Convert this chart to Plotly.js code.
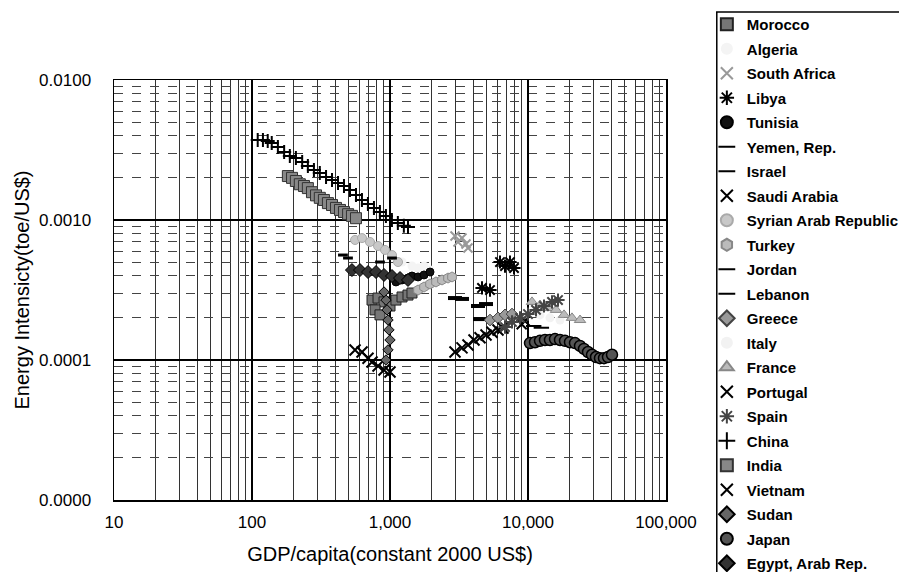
<!DOCTYPE html>
<html>
<head>
<meta charset="utf-8">
<script src="https://cdn.plot.ly/plotly-3.0.1.min.js"></script>
<style>html,body{margin:0;padding:0;background:#fff;}#chart{width:899px;height:572px;}</style>
</head>
<body>
<div id="chart"></div>
<script>
// ---- axes ----
const xTickVals = [10, 100, 1000, 10000, 100000];
const xTickText = ["10", "100", "1,000", "10,000", "100,000"];
const yTickVals = [0.00001, 0.0001, 0.001, 0.01];
const yTickText = ["0.0000", "0.0001", "0.0010", "0.0100"];
const xMinorVals = [20,30,40,50,60,70,80,90,200,300,400,500,600,700,800,900,2000,3000,4000,5000,6000,7000,8000,9000,20000,30000,40000,50000,60000,70000,80000,90000];
const yMinorVals = [0.00002,0.00003,0.00004,0.00005,0.00006,0.00007,0.00008,0.00009,0.0002,0.0003,0.0004,0.0005,0.0006,0.0007,0.0008,0.0009,0.002,0.003,0.004,0.005,0.006,0.007,0.008,0.009];

// ---- data (GDP per capita, constant 2000 US$ ; energy intensity toe/US$) ----
const countries = ["Morocco","Algeria","South Africa","Libya","Tunisia","Yemen, Rep.","Israel","Saudi Arabia","Syrian Arab Republic","Turkey","Jordan","Lebanon","Greece","Italy","France","Portugal","Spain","China","India","Vietnam","Sudan","Japan","Egypt, Arab Rep."];

const moroccoX = [741, 819, 905, 1000, 1105, 1222, 1350, 1443, 779, 846];
const moroccoY = [0.000268, 0.000277, 0.00026, 0.000243, 0.000268, 0.000282, 0.000291, 0.000301, 0.000228, 0.00021];
const algeriaX = [1222, 1443, 1596, 1764, 1950];
const algeriaY = [0.000501, 0.000469, 0.000454, 0.000469, 0.000439];
const southAfricaX = [2958, 3110, 3324, 3554, 3675];
const southAfricaY = [0.000769, 0.000697, 0.000743, 0.000674, 0.000631];
const libyaX = [6268, 6813, 7405, 7916, 4642, 5305];
const libyaY = [0.000501, 0.000469, 0.000501, 0.000454, 0.000327, 0.000316];
const tunisiaX = [1105, 1222, 1350, 1443, 1596, 1764, 1950];
const tunisiaY = [0.000361, 0.000373, 0.000385, 0.000398, 0.000392, 0.000405, 0.000425];
const yemenX = [456, 496];
const yemenY = [0.000562, 0.000535];
const israelX = [11000, 12500];
const israelY = [0.000175, 0.00017];
const saudiX = [9000, 9500];
const saudiY = [0.00018, 0.00019];
const syriaX = [558, 627, 716, 819, 920, 1034, 1143];
const syriaY = [0.00072, 0.000743, 0.000697, 0.000652, 0.000611, 0.000562, 0.000501];
const turkeyX = [1596, 1764, 1950, 2154, 2382, 2633, 2815];
const turkeyY = [0.000316, 0.000332, 0.000349, 0.000361, 0.000373, 0.000385, 0.000392];
const jordanX = [846, 1034];
const jordanY = [0.000501, 0.000535];
const lebanonX = [2958, 3324, 4342, 4490, 4963];
const lebanonY = [0.000277, 0.000273, 0.000243, 0.000196, 0.000251];
const greeceX = [5305, 6063, 6813, 7657];
const greeceY = [0.000193, 0.0002, 0.00021, 0.000213];
const italyX = [12220, 14430, 17060];
const italyY = [0.00021, 0.0002, 0.000193];
const franceX = [10690, 12220, 13960, 15960, 18240, 20840, 23820];
const franceY = [0.00026, 0.000247, 0.000235, 0.000228, 0.00021, 0.0002, 0.000193];
const portugalX = [2958, 3324, 3675, 4062, 4490, 4963, 5484, 6063, 6590];
const portugalY = [0.000114, 0.000122, 0.000128, 0.000139, 0.000144, 0.000151, 0.000158, 0.000164, 0.000169];
const spainX = [6813, 7657, 8750, 10000, 11430, 13060, 14930, 16500];
const spainY = [0.000172, 0.000187, 0.0002, 0.000213, 0.000228, 0.000243, 0.00026, 0.000268];
const chinaX = [110, 120, 130, 139, 154, 171, 188, 208, 231, 254, 281, 310, 344, 380, 420, 464, 513, 567, 626, 692, 765, 845, 934, 1032, 1140, 1260, 1350];
const chinaY = [0.00373, 0.00373, 0.00367, 0.00355, 0.00332, 0.00306, 0.00287, 0.00277, 0.0026, 0.00243, 0.00228, 0.00217, 0.00203, 0.00193, 0.00184, 0.00175, 0.00164, 0.00151, 0.00139, 0.0013, 0.00122, 0.00114, 0.00107, 0.001, 0.00095, 0.00091, 0.00089];
const indiaX = [182, 195, 208, 222, 238, 254, 272, 291, 310, 332, 355, 380, 406, 434, 464, 497, 530, 567];
const indiaY = [0.00206, 0.002, 0.0019, 0.0018, 0.00175, 0.00169, 0.00158, 0.0015, 0.00144, 0.00139, 0.00132, 0.00128, 0.00122, 0.00118, 0.00114, 0.0011, 0.00107, 0.00103];
const vietnamX = [558, 627, 693, 741, 819, 905, 1000];
const vietnamY = [0.000118, 0.000114, 0.000103, 0.0000968, 0.0000906, 0.0000848, 0.0000821];
const sudanX = [935, 967, 1000, 983, 967, 951, 935, 905];
const sudanY = [0.0001, 0.000118, 0.000139, 0.000164, 0.000193, 0.000228, 0.000268, 0.000306];
const japanX = [10340, 11240, 12220, 13280, 14430, 15690, 17060, 18540, 20150, 21910, 23820, 25450, 27220, 29090, 31110, 33240, 35540, 37990, 40620];
const japanY = [0.000132, 0.000134, 0.000137, 0.000139, 0.000139, 0.000141, 0.000139, 0.000137, 0.000134, 0.000132, 0.000126, 0.00012, 0.000114, 0.000109, 0.000105, 0.000103, 0.000103, 0.000105, 0.000109];
const egyptX = [530, 606, 693, 792, 905, 1034, 1182, 1350];
const egyptY = [0.000439, 0.000439, 0.000425, 0.000425, 0.000405, 0.000398, 0.000385, 0.000373];

// ---- styles ----
const seriesX = [moroccoX, algeriaX, southAfricaX, libyaX, tunisiaX, yemenX, israelX, saudiX, syriaX, turkeyX, jordanX, lebanonX, greeceX, italyX, franceX, portugalX, spainX, chinaX, indiaX, vietnamX, sudanX, japanX, egyptX];
const seriesY = [moroccoY, algeriaY, southAfricaY, libyaY, tunisiaY, yemenY, israelY, saudiY, syriaY, turkeyY, jordanY, lebanonY, greeceY, italyY, franceY, portugalY, spainY, chinaY, indiaY, vietnamY, sudanY, japanY, egyptY];
const styles = [
  {symbol:'square', color:'#777', line:'#222', size:10, lw:1},
  {symbol:'circle', color:'#f4f4f4', line:'#eee', size:9, lw:0},
  {symbol:'x-thin-open', color:'#999', line:'#999', size:9, lw:2},
  {symbol:'asterisk-open', color:'#000', line:'#000', size:11, lw:2},
  {symbol:'circle', color:'#111', line:'#000', size:8, lw:1},
  {symbol:'line-ew-open', color:'#000', line:'#000', size:7, lw:3},
  {symbol:'line-ew-open', color:'#000', line:'#000', size:11, lw:2},
  {symbol:'x-thin-open', color:'#000', line:'#000', size:10, lw:2},
  {symbol:'circle', color:'#c8c8c8', line:'#aaa', size:9, lw:1},
  {symbol:'hexagon', color:'#bbb', line:'#888', size:10, lw:1},
  {symbol:'line-ew-open', color:'#000', line:'#000', size:7, lw:3},
  {symbol:'line-ew-open', color:'#000', line:'#000', size:10, lw:4},
  {symbol:'diamond', color:'#999', line:'#444', size:9, lw:1},
  {symbol:'circle', color:'#f2f2f2', line:'#eee', size:9, lw:0},
  {symbol:'triangle-up', color:'#bbb', line:'#888', size:10, lw:1},
  {symbol:'x-thin-open', color:'#000', line:'#000', size:11, lw:2},
  {symbol:'asterisk-open', color:'#444', line:'#444', size:11, lw:2},
  {symbol:'cross-thin-open', color:'#000', line:'#000', size:10, lw:2},
  {symbol:'square', color:'#888', line:'#333', size:11, lw:1},
  {symbol:'x-thin-open', color:'#000', line:'#000', size:11, lw:2},
  {symbol:'diamond', color:'#666', line:'#000', size:8, lw:1},
  {symbol:'circle', color:'#555', line:'#000', size:11, lw:1.5},
  {symbol:'diamond', color:'#333', line:'#000', size:10, lw:1}
];

const traces = countries.map((name, i) => ({
  type: 'scatter', mode: 'markers', name: name,
  x: seriesX[i], y: seriesY[i],
  legendgroup: 'g' + i,
  marker: {symbol: styles[i].symbol, color: styles[i].color, size: styles[i].size,
           line: {color: styles[i].line, width: styles[i].lw}}
}));

const layout = {
  width: 899, height: 572,
  paper_bgcolor: '#fff', plot_bgcolor: '#fff',
  margin: {l: 114, r: 233, t: 80, b: 72, autoexpand: false},
  font: {family: 'Liberation Sans, Arial, sans-serif', color: '#000', size: 17},
  showlegend: true,
  legend: {x: 1.074, y: 1.1714, xanchor: 'left', yanchor: 'top', maxheight: 700,
           bgcolor: 'rgba(0,0,0,0)', borderwidth: 0,
           font: {size: 15, color: '#000', weight: 'bold'}, tracegroupgap: 2, itemsizing: 'constant'},
  shapes: [{type: 'rect', xref: 'paper', yref: 'paper', x0: 1.092, x1: 1.45, y0: -0.3, y1: 1.162,
            line: {color: '#000', width: 1.5}, fillcolor: 'rgba(0,0,0,0)', layer: 'below'}],
  xaxis: {type: 'log', range: [1, 5], tickvals: xTickVals, ticktext: xTickText,
          showgrid: true, gridcolor: '#000', gridwidth: 1.5, zeroline: false,
          showline: true, linecolor: '#000', linewidth: 1.5, mirror: true, ticks: '',
          tickfont: {size: 17}, ticklabelstandoff: 6,
          minor: {tickmode: 'array', tickvals: xMinorVals, showgrid: true, gridcolor: '#333', gridwidth: 1, ticks: ''},
          title: {text: 'GDP/capita(constant 2000 US$)', font: {size: 20}, standoff: 16}},
  yaxis: {type: 'log', range: [-5, -2], tickvals: yTickVals, ticktext: yTickText,
          showgrid: true, gridcolor: '#000', gridwidth: 1.5, zeroline: false,
          showline: true, linecolor: '#000', linewidth: 1.5, mirror: true, ticks: '',
          tickfont: {size: 17}, ticklabelstandoff: 18,
          minor: {tickmode: 'array', tickvals: yMinorVals, showgrid: true, gridcolor: '#444', gridwidth: 1, griddash: 'dash', ticks: ''},
          title: {text: 'Energy Intensicty(toe/US$)', font: {size: 20}, standoff: 4}}
};

Plotly.newPlot('chart', traces, layout, {displayModeBar: false, staticPlot: true});
</script>
</body>
</html>
